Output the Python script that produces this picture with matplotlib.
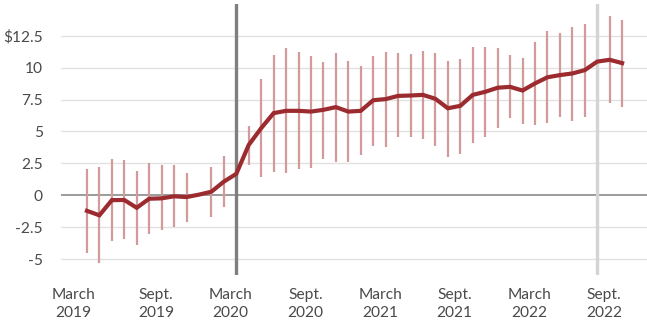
import numpy as np
import matplotlib
matplotlib.use("Agg")
import matplotlib.pyplot as plt
import matplotlib.transforms as mtransforms

# monthly series, March 2019 .. October 2022
months = np.arange(44)
estimate = [
    -1.22, -1.57, -0.38, -0.37, -0.98, -0.27, -0.24, -0.08, -0.14, 0.05,
    0.28, 1.07, 1.68, 3.95, 5.26, 6.44, 6.62, 6.62, 6.56, 6.70,
    6.91, 6.56, 6.62, 7.45, 7.54, 7.79, 7.82, 7.87, 7.56, 6.82,
    7.01, 7.87, 8.11, 8.43, 8.50, 8.21, 8.77, 9.25, 9.42, 9.55,
    9.81, 10.48, 10.62, 10.36,
]
low = [
    -4.50, -5.30, -3.59, -3.46, -3.93, -3.04, -2.72, -2.46, -2.07, np.nan,
    -1.73, -0.89, np.nan, 2.38, 1.41, 1.85, 1.73, 2.04, 2.17, 2.83,
    2.64, 2.64, 3.16, 3.90, 3.82, 4.55, 4.55, 4.42, 3.87, 3.03,
    3.22, 4.08, 4.60, 5.26, 6.04, 5.57, 5.52, 5.70, 6.12, 5.86,
    6.17, np.nan, 7.22, 6.95,
]
high = [
    2.04, 2.25, 2.83, 2.77, 1.93, 2.56, 2.35, 2.35, 1.78, np.nan,
    2.20, 3.06, np.nan, 5.44, 9.10, 10.99, 11.55, 11.20, 10.93, 10.46,
    11.15, 10.49, 10.10, 10.93, 11.22, 11.15, 11.09, 11.33, 11.15, 10.49,
    10.70, 11.62, 11.59, 11.54, 10.96, 10.75, 11.98, 12.84, 12.72, 13.23,
    13.42, np.nan, 14.02, 13.76,
]
tick_months = [0, 6, 12, 18, 24, 30, 36, 42]
tick_labels = ["March\n2019", "Sept.\n2019", "March\n2020", "Sept.\n2020",
               "March\n2021", "Sept.\n2021", "March\n2022", "Sept.\n2022"]
y_ticks = [-5, -2.5, 0, 2.5, 5, 7.5, 10, 12.5]
y_labels = ["-5", "-2.5", "0", "2.5", "5", "7.5", "10", "$12.5"]
pandemic_start = 12
latest_month = 41

plt.rcParams["font.family"] = ["Lato", "DejaVu Sans"]

fig = plt.figure(figsize=(6.47, 3.27), dpi=100)
ax = fig.add_axes([0.094, 0.159, 0.906, 0.829])

# uncertainty range for each month
ax.vlines(months, low, high, color="#d39a9c", linewidth=1.6, zorder=2)

# marker lines
ax.axvline(pandemic_start, color="#7f7f7f", linewidth=2.4, zorder=3)
ax.axvline(latest_month, color="#d4d4d4", linewidth=2.4, zorder=3)

ax.plot(months, estimate, color="#9b2b2e", linewidth=3.0,
        solid_joinstyle="miter", zorder=4)

ax.set_ylim(-6.25, 15.0)
ax.set_xlim(-2.1, 45.0)

ax.set_yticks(y_ticks)
ax.set_yticklabels(y_labels)
ax.set_xticks(np.array(tick_months) - 0.45)
ax.set_xticklabels(tick_labels, linespacing=1.4)

for y in y_ticks:
    if y == 0:
        ax.axhline(y, color="#8a8a8a", linewidth=1.2, zorder=1)
    else:
        ax.axhline(y, color="#e2e2e2", linewidth=1.0, zorder=1)

ax.tick_params(axis="both", length=0, labelsize=11.2, colors="#4a4a4a")
ax.tick_params(axis="y", pad=13)
ax.tick_params(axis="x", pad=9)

# first label sits a little to the left
first = ax.get_xticklabels()[0]
first.set_transform(first.get_transform() +
                    mtransforms.ScaledTranslation(-0.08, 0, fig.dpi_scale_trans))

for side in ["top", "right", "bottom", "left"]:
    ax.spines[side].set_visible(False)

fig.savefig("out.png", dpi=100)
